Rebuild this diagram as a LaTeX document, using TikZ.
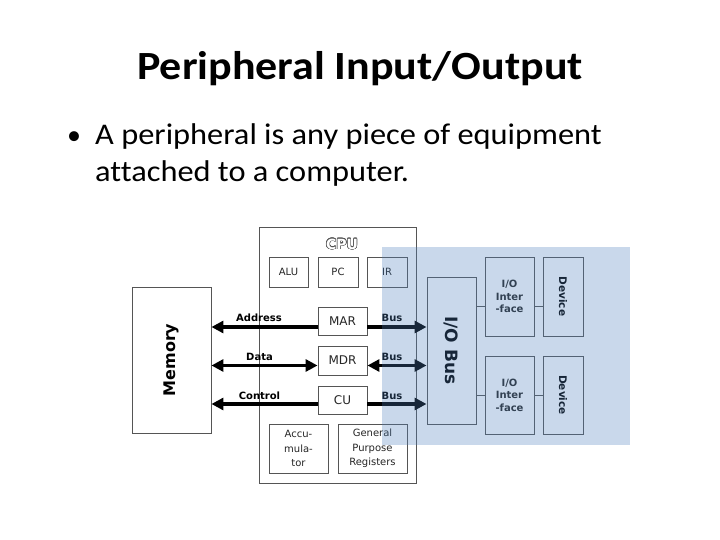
\documentclass[tikz,border=0pt]{standalone}
\usepackage{fontspec}
\setmainfont{Carlito}[Ligatures=NoCommon]
\newfontfamily\diagfont{DejaVu Sans}
\usepackage[copies]{contour}
\contourlength{0.6pt}
\usepackage{xcolor}
\usepackage{tikz}
\usetikzlibrary{positioning,calc,arrows.meta}
\definecolor{boxgray}{HTML}{555555}
\definecolor{ioblue}{HTML}{4F81BD}

\begin{document}
\begin{tikzpicture}[x=1pt,y=-1pt,
    box/.style={draw=boxgray,line width=0.9pt,inner sep=0pt,align=center,text=black!85,
      font=\diagfont\fontsize{10}{14.5}\selectfont},
    boldbox/.style={box,font=\diagfont\bfseries\fontsize{10}{12.5}\selectfont},
    bus/.style={line width=3.6pt,-{Triangle[length=12pt,width=12pt]}},
    dbus/.style={line width=3.6pt,{Triangle[length=12pt,width=12pt]}-{Triangle[length=12pt,width=12pt]}},
    link/.style={draw=boxgray,line width=0.9pt},
    lbl/.style={font=\diagfont\bfseries\fontsize{10}{11}\selectfont,inner sep=0pt}]
    \useasboundingbox (0,0) rectangle (720,540);
    \fill[white] (0,0) rectangle (720,540);
    % Title and bullet
    \node [anchor=base,transform shape,xscale=1.1,font=\fontsize{40}{48}\selectfont\bfseries] (title) at (360,80) {Peripheral Input/Output};
    \node [anchor=base,inner sep=0pt,font=\fontsize{28}{37}\selectfont] (dot) at (74,145) {•};
    \node [anchor=base west,align=left,inner sep=0pt,transform shape,xscale=1.08,
      font=\fontsize{30}{37}\selectfont] (text) at (95,182)
      {A peripheral is any piece of equipment\\attached to a computer.};
    % CPU
    \node [box,minimum width=157pt,minimum height=256pt] (cpu) at (337.5,355) {};
    \node [inner sep=0pt,font=\diagfont\bfseries\fontsize{14}{16}\selectfont] (cpulbl) at (342,244.5)
      {\contour{boxgray}{\textcolor{white}{CPU}}};
    \node [box,minimum width=39pt,minimum height=30pt] (alu) at (288.5,272) {ALU};
    \node [box,minimum width=40pt,minimum height=30pt] (pc) at (338,272) {PC};
    \node [box,minimum width=40pt,minimum height=30pt] (ir) at (387,272) {IR};
    \node [box,minimum width=49pt,minimum height=28pt,font=\diagfont\fontsize{12}{13}\selectfont] (mar) at (342.5,321) {MAR};
    \node [box,minimum width=49pt,minimum height=29pt,font=\diagfont\fontsize{12}{13}\selectfont] (mdr) at (342.5,360.5) {MDR};
    \node [box,minimum width=49pt,minimum height=28pt,font=\diagfont\fontsize{12}{13}\selectfont] (cu) at (342.5,400) {CU};
    \node [box,minimum width=59pt,minimum height=49pt] (acc) at (298.5,448.5) {Accu-\\mula-\\tor};
    \node [box,minimum width=69pt,minimum height=49pt] (gpr) at (372.5,448.5) {General\\Purpose\\Registers};
    % Memory
    \node [box,minimum width=79pt,minimum height=146pt] (mem) at (171.5,360) {};
    \node [rotate=90,font=\diagfont\bfseries\fontsize{16}{18}\selectfont] (memlbl) at (mem.center) {Memory};
    % I/O side
    \node [box,minimum width=49pt,minimum height=147pt] (iobus) at (451.5,350.5) {};
    \node [rotate=-90,font=\diagfont\bfseries\fontsize{17}{19}\selectfont] (ioblbl) at (iobus.center) {I/O Bus};
    \node [boldbox,minimum width=49pt,minimum height=79pt] (if1) at (509.5,296.5) {I/O\\Inter\\-face};
    \node [boldbox,minimum width=49pt,minimum height=78pt] (if2) at (509.5,395) {I/O\\Inter\\-face};
    \node [box,minimum width=40pt,minimum height=79pt] (dev1) at (563,296.5) {};
    \node [box,minimum width=40pt,minimum height=78pt] (dev2) at (563,395) {};
    \node [rotate=-90,font=\diagfont\bfseries\fontsize{10.5}{12}\selectfont] (dev1lbl) at (dev1.center) {Device};
    \node [rotate=-90,font=\diagfont\bfseries\fontsize{10.5}{12}\selectfont] (dev2lbl) at (dev2.center) {Device};
    \draw [link] ([yshift=-10pt]if1.west -| iobus.east) -- ([yshift=-10pt]if1.west);
    \draw [link] ([yshift=-10pt]if1.east) -- ([yshift=-10pt]if1.east -| dev1.west);
    \draw [link] (if2.west -| iobus.east) -- (if2.west);
    \draw [link] (if2.east) -- (dev2.west);
    % Buses
    \draw [bus] ([yshift=-6pt]mar.west) -- ([yshift=-6pt]mar.west -| mem.east);
    \draw [dbus] ([yshift=-5pt]mdr.west -| mem.east) -- ([yshift=-5pt]mdr.west);
    \draw [bus] ([yshift=-4pt]cu.west) -- ([yshift=-4pt]cu.west -| mem.east);
    \draw [bus] ([yshift=-6pt]mar.east) -- ([yshift=-6pt]mar.east -| iobus.west);
    \draw [dbus] ([yshift=-5pt]mdr.east) -- ([yshift=-5pt]mdr.east -| iobus.west);
    \draw [bus] ([yshift=-4pt]cu.east) -- ([yshift=-4pt]cu.east -| iobus.west);
    \node [lbl] (addr) at (259,318) {Address};
    \node [lbl] (data) at (259.5,357) {Data};
    \node [lbl] (ctrl) at (259.5,396) {Control};
    \node [lbl] (bus1) at (392,318) {Bus};
    \node [lbl] (bus2) at (392,357) {Bus};
    \node [lbl] (bus3) at (392,396) {Bus};
    % I/O side shading
    \fill [ioblue,fill opacity=0.3] (382,247) rectangle (630,445);
\end{tikzpicture}
\end{document}
